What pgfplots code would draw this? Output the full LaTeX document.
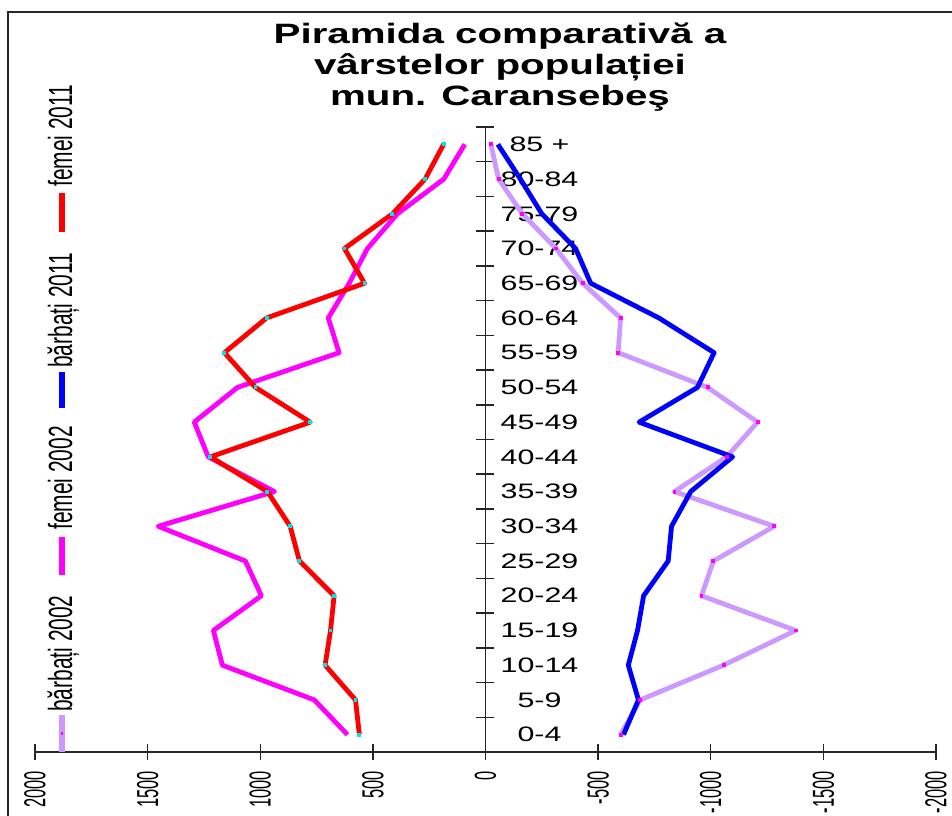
\documentclass[border=0pt]{standalone}
\usepackage{pgfplots}
\pgfplotsset{compat=1.18}
\usepackage{pgfplotstable}
\usepackage{graphicx}
\usepackage{fontspec}
\setmainfont{Liberation Sans}
\definecolor{lpurple}{RGB}{204,153,255}
\definecolor{mymag}{RGB}{255,0,255}
\definecolor{mycyan}{RGB}{0,230,230}
\definecolor{myblue}{RGB}{0,0,255}
\definecolor{myred}{RGB}{255,0,0}

% k = age group index (0 = 0-4 ... 17 = 85 +)
% f11 = femei 2011, f02 = femei 2002, b11 = barbati 2011, b02 = barbati 2002
\pgfplotstableread{
k f11 f02 b11 b02
0 560 613 -613 -600
1 577 760 -679 -687
2 712 1168 -634 -1057
3 688 1208 -675 -1377
4 672 995 -702 -959
5 826 1066 -811 -1012
6 867 1453 -826 -1282
7 968 937 -911 -839
8 1221 1231 -1097 -1071
9 778 1293 -682 -1208
10 1021 1101 -941 -986
11 1159 650 -1015 -589
12 972 698 -770 -600
13 537 605 -467 -431
14 626 524 -400 -313
15 413 391 -250 -164
16 268 185 -155 -58
17 186 92 -55 -24
}\pyr

\newcommand{\cl}[1]{\scalebox{1.45}[1]{#1}}
\newcommand{\xl}[1]{\scalebox{1}[1.85]{#1}}
\newcommand{\legfont}{\fontsize{15.7pt}{18pt}\selectfont}
\newcommand{\tfont}{\fontsize{21pt}{24pt}\selectfont\bfseries}

\begin{document}
\begin{tikzpicture}
\useasboundingbox (-26.25pt,-48pt) rectangle (687.75pt,564pt);
\draw[black!85, line width=1.1pt] (-20.25pt,-48pt) -- (-20.25pt,555pt) -- (687.75pt,555pt);
\begin{axis}[
  at={(0pt,0pt)}, anchor=south west,
  scale only axis, width=675.75pt, height=468.75pt,
  xmin=-2000, xmax=2000, x dir=reverse,
  ymin=-0.5, ymax=17.5,
  axis x line=bottom, axis y line=center,
  axis line style={-, black!85, line width=1.1pt},
  tick style={black!85, line width=1.1pt},
  tick align=center,
  major tick length=12pt,
  minor tick length=13.5pt,
  xtick={-2000,-1500,...,2000},
  xticklabels={\xl{-2000},\xl{-1500},\xl{-1000},\xl{-500},\xl{0},\xl{500},\xl{1000},\xl{1500},\xl{2000}},
  xticklabel style={yshift=-8.25pt, rotate=90, anchor=east, font=\fontsize{12.3pt}{14pt}\selectfont, inner sep=0pt},
  ytick={0,...,17},
  yticklabels={\cl{0-4},\cl{5-9},\cl{10-14},\cl{15-19},\cl{20-24},\cl{25-29},\cl{30-34},\cl{35-39},\cl{40-44},\cl{45-49},\cl{50-54},\cl{55-59},\cl{60-64},\cl{65-69},\cl{70-74},\cl{75-79},\cl{80-84},\cl{85 +}},
  every major y tick/.append style={draw=none},
  minor ytick={-0.5,0.5,...,17.5},
  yticklabel style={anchor=center, font=\fontsize{15.7pt}{18pt}\selectfont, inner sep=0pt, xshift=46.5pt},
  clip=false,
]
\addplot[color=lpurple, line width=3.6pt, line join=round, mark=square*, mark size=1.1pt, mark options={mymag, line width=0pt}] table[x=b02, y=k]{\pyr};
\addplot[color=mymag, line width=3.6pt, line join=round] table[x=f02, y=k]{\pyr};
\addplot[color=myblue, line width=3.6pt, line join=round] table[x=b11, y=k]{\pyr};
\addplot[color=myred, line width=3.6pt, line join=round, mark=square*, mark size=1.1pt, mark options={mycyan, line width=0pt}] table[x=f11, y=k]{\pyr};
\end{axis}
% legend (rotated)
\draw[lpurple, line width=5pt] (20.25pt,0pt) -- (20.25pt,27.75pt);
\fill[mymag] (19.25pt,12.9pt) rectangle (21.25pt,14.9pt);
\node[rotate=90, anchor=base west, inner sep=0pt, font=\legfont] at (27.75pt,30pt) {\scalebox{1}[1.6]{bărbați 2002}};
\draw[mymag, line width=5pt] (20.25pt,132.75pt) -- (20.25pt,161.25pt);
\node[rotate=90, anchor=base west, inner sep=0pt, font=\legfont] at (27.75pt,166.5pt) {\scalebox{1}[1.6]{femei 2002}};
\draw[myblue, line width=5pt] (20.25pt,258pt) -- (20.25pt,285pt);
\node[rotate=90, anchor=base west, inner sep=0pt, font=\legfont] at (27.75pt,288pt) {\scalebox{1}[1.6]{bărbați 2011}};
\draw[myred, line width=5pt] (20.25pt,390pt) -- (20.25pt,419.25pt);
\node[rotate=90, anchor=base west, inner sep=0pt, font=\legfont] at (27.75pt,423.75pt) {\scalebox{1}[1.6]{femei 2011}};
% title
\node[anchor=base, inner sep=0pt, font=\tfont] at (348.75pt,531pt) {\scalebox{1.44}[1]{Piramida comparativă a}};
\node[anchor=base, inner sep=0pt, font=\tfont] at (348.75pt,507.75pt) {\scalebox{1.44}[1]{vârstelor populației}};
\node[anchor=base, inner sep=0pt, font=\tfont] at (348.75pt,484.5pt) {\scalebox{1.44}[1]{mun. Caransebeş}};
\end{tikzpicture}
\end{document}
